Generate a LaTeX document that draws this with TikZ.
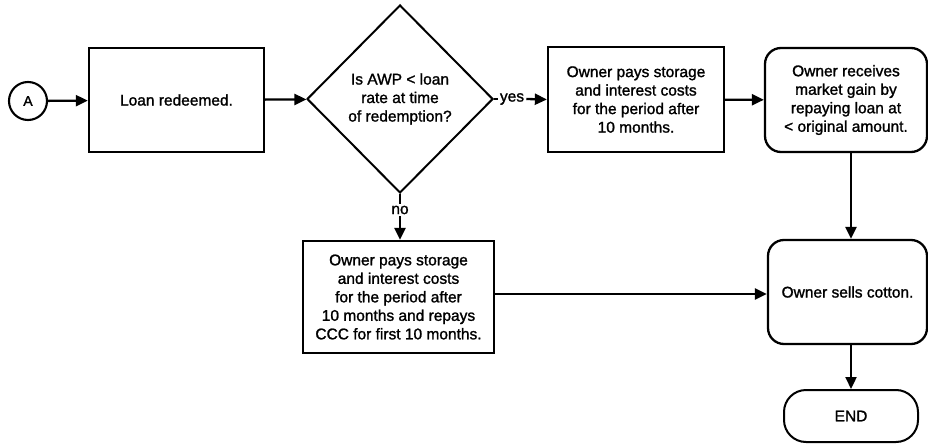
\documentclass[tikz,border=0pt]{standalone}
\usepackage{fontspec}
\setmainfont{Liberation Sans}[FakeBold=1.4]
\usetikzlibrary{shapes.geometric,arrows.meta}
\begin{document}
\begin{tikzpicture}[x=1pt,y=-1pt,
  every node/.style={font=\fontsize{15.5}{18.5}\selectfont, align=center, inner sep=0pt},
  box/.style={draw, line width=2.3pt, minimum width=#1},
  roundbox/.style={draw, line width=2.3pt, rounded corners=16pt},
  flow/.style={line width=2.3pt, -{Triangle[length=12pt,width=11pt]}},
  plain/.style={line width=2.3pt},
  lbl/.style={fill=white, inner sep=2pt}]
\useasboundingbox (0,0) rectangle (928,446);

% start connector
\node[draw, circle, line width=2.1pt, minimum size=38pt, font=\fontsize{14}{16}\selectfont] (A) at (28,101) {A};

% top row
\node[box=175pt, minimum height=104pt] (redeem) at (176.5,100) {Loan redeemed.};
\node[draw, diamond, line width=2pt, minimum width=186pt, minimum height=188pt] (test) at (400,99)
  {Is AWP < loan\\rate at time\\of redemption?};
\node[box=176pt, minimum height=105pt] (payafter) at (636,99.5)
  {Owner pays storage\\and interest costs\\for the period after\\10 months.};
\node[roundbox, minimum width=162pt, minimum height=104pt] (gain) at (846,100)
  {Owner receives\\market gain by\\repaying loan at\\< original amount.};

% lower branch
\node[box=191pt, minimum height=112pt] (payall) at (398.5,297)
  {Owner pays storage\\and interest costs\\for the period after\\10 months and repays\\CCC for first 10 months.};
\node[roundbox, minimum width=159pt, minimum height=104pt] (sell) at (847.5,292) {Owner sells cotton.};
\node[draw, line width=2pt, rounded corners=22pt, minimum width=134pt, minimum height=52pt] (stop) at (851,416) {END};

% branch labels
\node[lbl] (yes) at (512,99) {yes};
\node[lbl] (no) at (400,210) {no};

% connectors
\draw[flow] (A) -- (redeem);
\draw[flow] (redeem) -- (test);
\draw[plain] (test.east) -- (yes.west);
\draw[flow] (yes.east) -- (payafter.west);
\draw[flow] (payafter) -- (gain);
\draw[plain] (test.south) -- (no.north);
\draw[flow] (no.south) -- (payall.north -| no.south);
\draw[flow] (gain.south -| stop.north) -- (sell.north -| stop.north);
\draw[flow] ([yshift=3pt]payall.east) -- ([yshift=3pt]payall.east -| sell.west);
\draw[flow] (sell.south -| stop.north) -- (stop.north);
\end{tikzpicture}
\end{document}
